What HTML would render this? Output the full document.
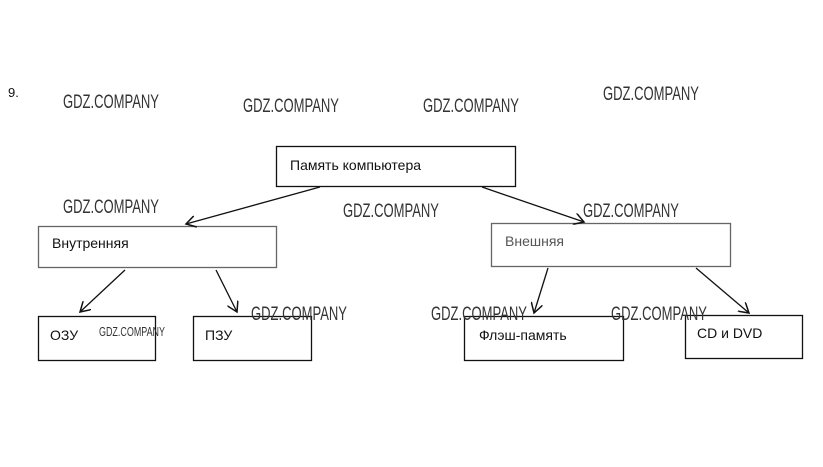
<!DOCTYPE html>
<html><head><meta charset="utf-8"><style>
html,body{margin:0;padding:0;background:#fff;}
svg{display:block;}
.b{font-family:"Liberation Sans","Noto Sans CJK SC",sans-serif;font-size:14px;fill:#111;}
.w{font-family:"Liberation Sans",sans-serif;font-size:19px;fill:#333;}
</style></head><body>
<svg width="823" height="467" viewBox="0 0 823 467" xmlns="http://www.w3.org/2000/svg">
<defs><marker id="a" markerWidth="12" markerHeight="12" refX="10" refY="6" orient="auto" markerUnits="userSpaceOnUse"><path d="M0,0 L10,6 L0,12" fill="none" stroke="#111" stroke-width="1.5"/></marker></defs>
<text x="8" y="97" class="b" style="font-size:13px">9.</text>
<g fill="none" stroke="#111" stroke-width="1.3">
<rect x="276.5" y="146.5" width="239" height="40"/>
<rect x="38.5" y="226.5" width="238" height="41" stroke="#666"/>
<rect x="491.5" y="223.5" width="239" height="43" stroke="#666"/>
<rect x="38.5" y="316.5" width="117" height="44"/>
<rect x="193.5" y="316.5" width="118" height="44"/>
<rect x="464.5" y="316.5" width="159" height="44"/>
<rect x="685.5" y="315.5" width="117" height="43"/>
<line x1="320" y1="187" x2="186" y2="224" marker-end="url(#a)"/>
<line x1="482" y1="187" x2="584" y2="222" marker-end="url(#a)"/>
<line x1="125" y1="270" x2="80" y2="312" marker-end="url(#a)"/>
<line x1="216" y1="270" x2="237" y2="312" marker-end="url(#a)"/>
<line x1="548" y1="268" x2="534" y2="313" marker-end="url(#a)"/>
<line x1="696" y1="268" x2="749" y2="313" marker-end="url(#a)"/>
</g>
<text x="290" y="170" class="b">Память компьютера</text>
<text x="52" y="248" class="b">Внутренняя</text>
<text x="505" y="246" class="b" style="fill:#555">Внешняя</text>
<text x="50" y="340" class="b">ОЗУ</text>
<text x="205" y="340" class="b">ПЗУ</text>
<text x="479" y="340" class="b">Флэш-память</text>
<text x="697" y="338" class="b">CD и DVD</text>
<g class="w">
<text x="63" y="108" textLength="96" lengthAdjust="spacingAndGlyphs">GDZ.COMPANY</text>
<text x="243" y="112" textLength="96" lengthAdjust="spacingAndGlyphs">GDZ.COMPANY</text>
<text x="423" y="112" textLength="96" lengthAdjust="spacingAndGlyphs">GDZ.COMPANY</text>
<text x="603" y="100" textLength="96" lengthAdjust="spacingAndGlyphs">GDZ.COMPANY</text>
<text x="63" y="213" textLength="96" lengthAdjust="spacingAndGlyphs">GDZ.COMPANY</text>
<text x="343" y="217" textLength="96" lengthAdjust="spacingAndGlyphs">GDZ.COMPANY</text>
<text x="583" y="217" textLength="96" lengthAdjust="spacingAndGlyphs">GDZ.COMPANY</text>
<text x="251" y="320" textLength="96" lengthAdjust="spacingAndGlyphs">GDZ.COMPANY</text>
<text x="431" y="320" textLength="96" lengthAdjust="spacingAndGlyphs">GDZ.COMPANY</text>
<text x="611" y="320" textLength="96" lengthAdjust="spacingAndGlyphs">GDZ.COMPANY</text>
<text x="99" y="336" style="font-size:13px" textLength="66" lengthAdjust="spacingAndGlyphs">GDZ.COMPANY</text>
</g>
</svg>
</body></html>
